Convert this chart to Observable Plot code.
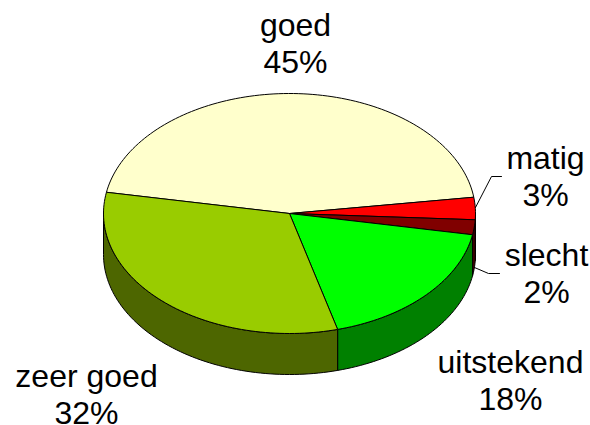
<!DOCTYPE html>
<html>
<head>
<meta charset="utf-8">
<script src="https://cdn.jsdelivr.net/npm/d3@7"></script>
<script src="https://cdn.jsdelivr.net/npm/@observablehq/plot@0.6"></script>
<style>html,body{margin:0;padding:0;background:#fff;overflow:hidden}svg{display:block}</style>
</head>
<body>
<div id="chart"></div>
<script>
const categories = ["goed", "matig", "slecht", "uitstekend", "zeer goed"];
const percents = [45, 3, 2, 18, 32];
const topColors = ["#FFFFCC", "#FF0000", "#800000", "#00FF00", "#99CC00"];
const sideColors = ["#808066", "#800000", "#400000", "#008000", "#4D6600"];
const labelX = [295, 545, 546, 510, 86];
const labelY = [42, 175, 272, 379, 393];
const leaderMatig = [[475, 207], [491, 176], [501, 176]];
const leaderSlecht = [[474, 267], [488, 273], [499, 273]];

// pie geometry (perspective ellipse)
const cx = 289, cy = 213, rx = 186, ry = 120, depth = 41, startAngle = -79.8;

const rim = (deg, drop = 0) => {
  const a = deg * Math.PI / 180;
  return {x: cx + rx * Math.sin(a), y: cy - ry * Math.cos(a) + drop};
};
const arc = (a0, a1, drop = 0) => {
  const n = Math.max(2, Math.ceil(Math.abs(a1 - a0) / 1.5));
  return d3.range(n + 1).map(i => rim(a0 + (a1 - a0) * i / n, drop));
};

let acc = startAngle;
const slices = categories.map((name, i) => {
  const a0 = acc;
  acc += percents[i] * 3.6;
  return {name, a0, a1: acc, top: topColors[i], side: sideColors[i]};
});

const outline = (pts, fill) => Plot.line(pts, {
  x: "x", y: "y", fill, stroke: "#000", strokeWidth: 1, curve: "linear"
});

const sideMarks = slices.flatMap(s => {
  const a0 = Math.max(s.a0, 90), a1 = Math.min(s.a1, 270);
  if (a1 <= a0) return [];
  const pts = [...arc(a0, a1), ...arc(a1, a0, depth)];
  pts.push(pts[0]);
  return [outline(pts, s.side)];
});

const topMarks = slices.map(s => {
  const c = {x: cx, y: cy};
  return outline([c, ...arc(s.a0, s.a1), c], s.top);
});

const labels = categories.map((name, i) => ({
  text: `${name}\n${percents[i]}%`, x: labelX[i], y: labelY[i]
}));

const leaders = [leaderMatig, leaderSlecht].map(l =>
  Plot.line(l, {x: d => d[0], y: d => d[1], stroke: "#000", strokeWidth: 1, curve: "linear"})
);

const chart = Plot.plot({
  width: 590, height: 425, margin: 0,
  style: {background: "#fff"},
  x: {domain: [0, 590], range: [0, 590], axis: null},
  y: {domain: [0, 425], range: [0, 425], axis: null},
  marks: [
    ...sideMarks,
    ...topMarks,
    ...leaders,
    Plot.text(labels, {
      x: "x", y: "y", text: "text", fontSize: 32, lineHeight: 1.16,
      fontFamily: "Liberation Sans", fill: "#000", textAnchor: "middle"
    })
  ]
});
document.getElementById("chart").append(chart);
</script>
</body>
</html>
